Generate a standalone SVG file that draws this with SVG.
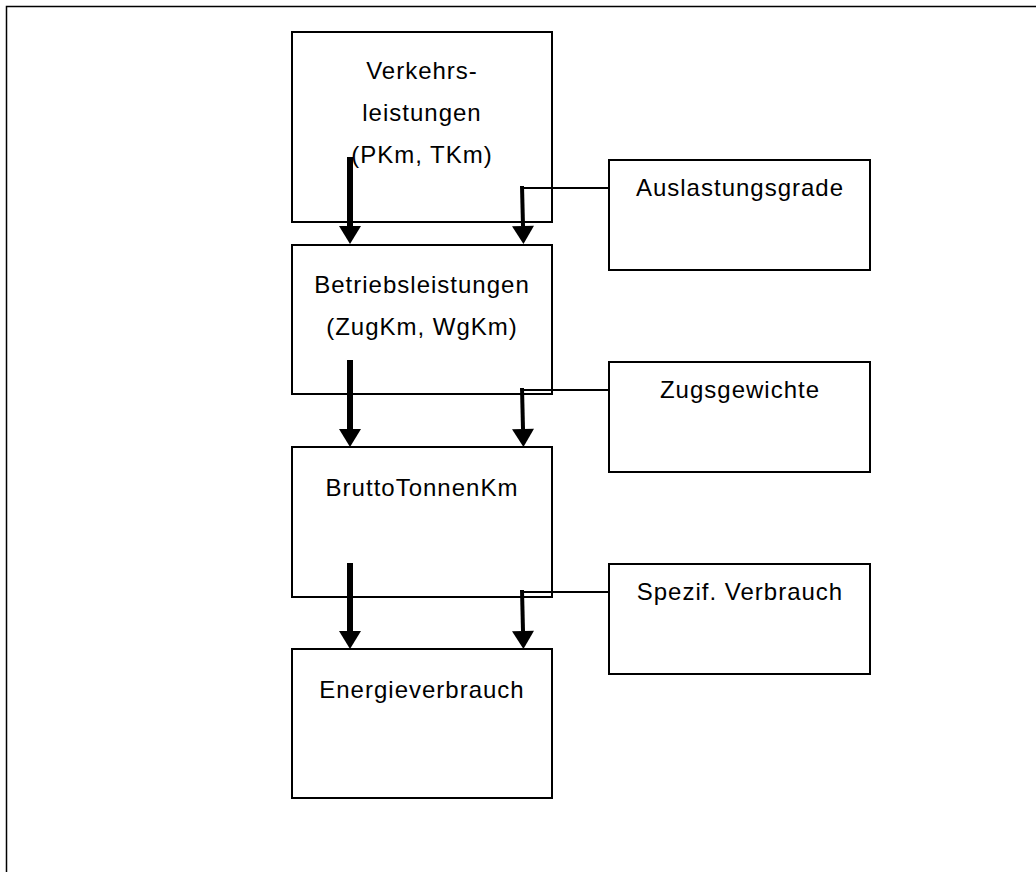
<svg xmlns="http://www.w3.org/2000/svg" width="1036" height="872" viewBox="0 0 1036 872">
<style>
.box{fill:#fff;stroke:#000;stroke-width:2}
.t{font-family:"Liberation Sans",Arial,sans-serif;font-size:24px;letter-spacing:1px;fill:#000;text-anchor:middle}
.thin{fill:none;stroke:#000;stroke-width:2}
.thick{fill:none;stroke:#000;stroke-width:6}
.med{fill:none;stroke:#000;stroke-width:4}
</style>
<defs>
<marker id="ah" markerUnits="userSpaceOnUse" markerWidth="18" markerHeight="22" viewBox="0 0 18 22" refX="0" refY="11" orient="auto" overflow="visible">
<path d="M0,0 L18,11 L0,22 z" fill="#000"/>
</marker>
</defs>
<rect width="1036" height="872" fill="#fff"/>
<path d="M6.5,872 V6.5 H1036" fill="none" stroke="#000" stroke-width="1.5"/>
<g id="n1"><rect class="box" x="292" y="32" width="260" height="190"/>
<text class="t" x="422" y="79">Verkehrs-</text>
<text class="t" x="422" y="121">leistungen</text>
<text class="t" x="422" y="163">(PKm, TKm)</text></g>
<g id="n2"><rect class="box" x="292" y="245" width="260" height="149"/>
<text class="t" x="422" y="293">Betriebsleistungen</text>
<text class="t" x="422" y="335">(ZugKm, WgKm)</text></g>
<g id="n3"><rect class="box" x="292" y="447" width="260" height="150"/>
<text class="t" x="422" y="496">BruttoTonnenKm</text></g>
<g id="n4"><rect class="box" x="292" y="649" width="260" height="149"/>
<text class="t" x="422" y="698">Energieverbrauch</text></g>
<g id="r1"><rect class="box" x="609" y="160" width="261" height="110"/>
<text class="t" x="740" y="196">Auslastungsgrade</text></g>
<g id="r2"><rect class="box" x="609" y="362" width="261" height="110"/>
<text class="t" x="740" y="398">Zugsgewichte</text></g>
<g id="r3"><rect class="box" x="609" y="564" width="261" height="110"/>
<text class="t" x="740" y="600">Spezif. Verbrauch</text></g>
<g id="connectors">
<path class="thick" d="M350,157 V226" marker-end="url(#ah)"/>
<path class="thick" d="M350,360 V429" marker-end="url(#ah)"/>
<path class="thick" d="M350,563 V631" marker-end="url(#ah)"/>
<path class="thin" d="M609,188 H522"/>
<path class="thin" d="M609,390 H522"/>
<path class="thin" d="M609,592 H522"/>
<path class="med" d="M522,186 L523,226" marker-end="url(#ah)"/>
<path class="med" d="M522,388 L523,429" marker-end="url(#ah)"/>
<path class="med" d="M522,590 L523,631" marker-end="url(#ah)"/>
</g>
</svg>
